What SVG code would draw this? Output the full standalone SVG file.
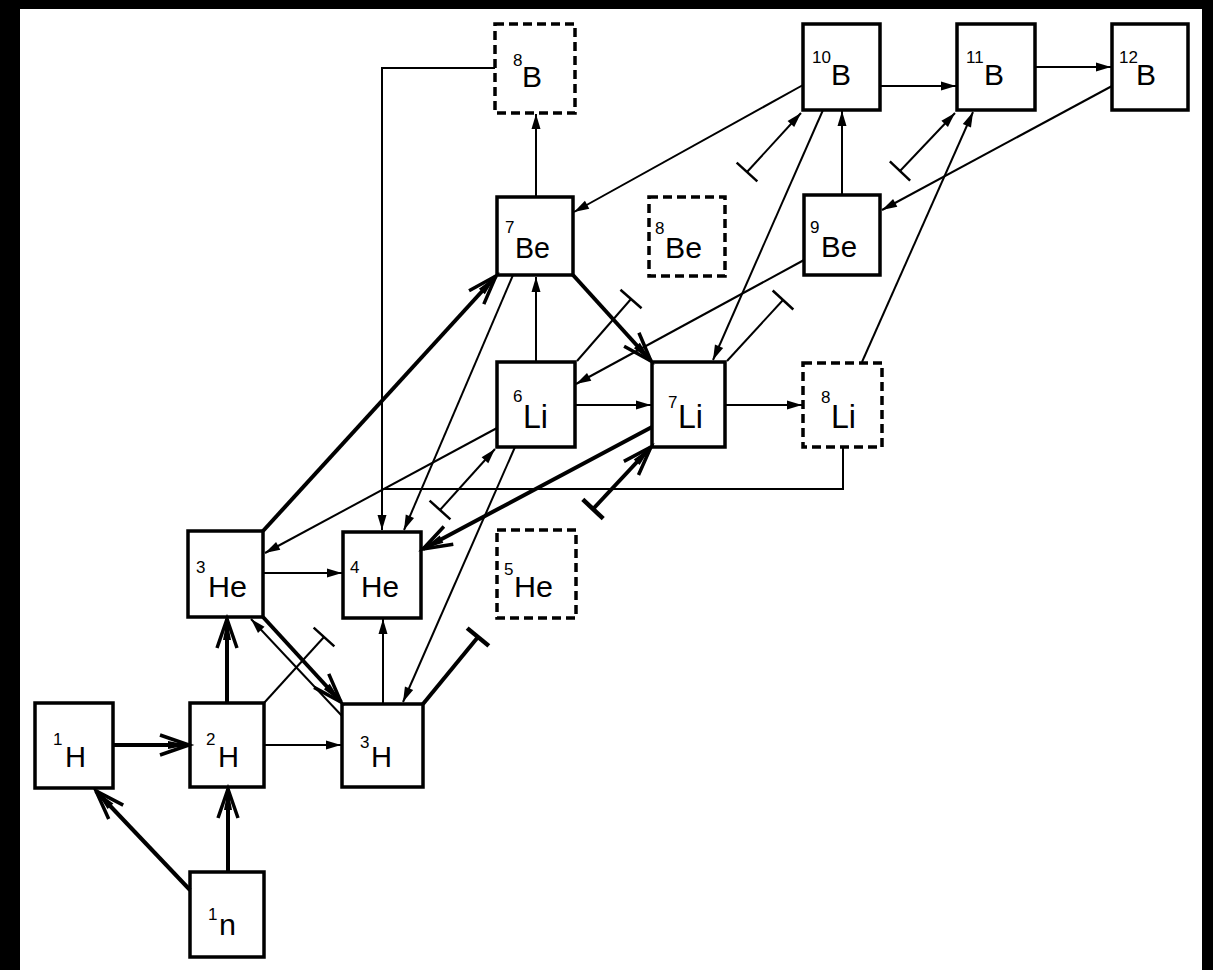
<svg xmlns="http://www.w3.org/2000/svg" width="1213" height="970" viewBox="0 0 1213 970">
<style>
.box{fill:#fff;stroke:#000;stroke-width:3.5}
.dash{fill:#fff;stroke:#000;stroke-width:3.5;stroke-dasharray:9 5}
.lab{font-family:"Liberation Sans",Arial,sans-serif;font-size:30px;fill:#000}
.sup{font-family:"Liberation Sans",Arial,sans-serif;font-size:17px;fill:#000}
.thin{fill:none;stroke:#000;stroke-width:2}
.thick{fill:none;stroke:#000;stroke-width:4}
</style>
<defs>
<marker id="a" markerUnits="userSpaceOnUse" markerWidth="16" markerHeight="10" refX="15" refY="5" orient="auto" overflow="visible"><path d="M0,0.5 L15,5 L0,9.5 z" fill="#000"/></marker>
<marker id="o" markerUnits="userSpaceOnUse" markerWidth="34" markerHeight="24" refX="31" refY="12" orient="auto" overflow="visible"><path d="M2,2 L31,12 L2,22" fill="none" stroke="#000" stroke-width="3.5"/><path d="M10,8 L31,12 L10,16 z" fill="#000"/></marker>
<marker id="t" markerUnits="userSpaceOnUse" markerWidth="4" markerHeight="30" refX="0" refY="14" orient="auto" overflow="visible"><path d="M0,0 V28" stroke="#000" stroke-width="2.5"/></marker>
<marker id="tk" markerUnits="userSpaceOnUse" markerWidth="6" markerHeight="30" refX="0" refY="14" orient="auto" overflow="visible"><path d="M0,0 V28" stroke="#000" stroke-width="4.5"/></marker>
</defs>
<rect x="0" y="0" width="1213" height="970" fill="#000"/>
<rect x="20" y="9" width="1182" height="961" fill="#fff"/>

<g id="nodes">
<g id="n8B"><rect class="dash" x="495" y="24" width="80" height="89"/><text class="sup" x="513" y="66">8</text><text class="lab" x="522" y="87">B</text></g>
<g id="n10B"><rect class="box" x="803" y="24" width="77" height="86"/><text class="sup" x="812" y="63">10</text><text class="lab" x="831" y="85">B</text></g>
<g id="n11B"><rect class="box" x="957" y="24" width="78" height="86"/><text class="sup" x="966" y="63">11</text><text class="lab" x="984" y="85">B</text></g>
<g id="n12B"><rect class="box" x="1112" y="24" width="76" height="86"/><text class="sup" x="1119" y="63">12</text><text class="lab" x="1136" y="85">B</text></g>
<g id="n7Be"><rect class="box" x="497" y="197" width="76" height="78"/><text class="sup" x="505" y="233">7</text><text class="lab" x="515" y="258" textLength="35" lengthAdjust="spacingAndGlyphs">Be</text></g>
<g id="n8Be"><rect class="dash" x="649" y="197" width="76" height="79"/><text class="sup" x="655" y="234">8</text><text class="lab" x="665" y="258" textLength="37" lengthAdjust="spacingAndGlyphs">Be</text></g>
<g id="n9Be"><rect class="box" x="804" y="195" width="76" height="80"/><text class="sup" x="810" y="233">9</text><text class="lab" x="821" y="257" textLength="36" lengthAdjust="spacingAndGlyphs">Be</text></g>
<g id="n6Li"><rect class="box" x="497" y="362" width="78" height="85"/><text class="sup" x="513" y="402">6</text><text class="lab" x="523" y="428" style="font-size:34px" textLength="25" lengthAdjust="spacingAndGlyphs">Li</text></g>
<g id="n7Li"><rect class="box" x="652" y="362" width="73" height="85"/><text class="sup" x="668" y="408">7</text><text class="lab" x="678" y="428" style="font-size:34px" textLength="25" lengthAdjust="spacingAndGlyphs">Li</text></g>
<g id="n8Li"><rect class="dash" x="803" y="363" width="79" height="84"/><text class="sup" x="821" y="403">8</text><text class="lab" x="831" y="428" style="font-size:34px" textLength="25" lengthAdjust="spacingAndGlyphs">Li</text></g>
<g id="n3He"><rect class="box" x="188" y="531" width="75" height="86"/><text class="sup" x="196" y="573">3</text><text class="lab" x="208" y="597" textLength="39" lengthAdjust="spacingAndGlyphs">He</text></g>
<g id="n4He"><rect class="box" x="343" y="532" width="78" height="86"/><text class="sup" x="350" y="573">4</text><text class="lab" x="361" y="597" textLength="38" lengthAdjust="spacingAndGlyphs">He</text></g>
<g id="n5He"><rect class="dash" x="497" y="530" width="79" height="88"/><text class="sup" x="504" y="575">5</text><text class="lab" x="514" y="597" textLength="39" lengthAdjust="spacingAndGlyphs">He</text></g>
<g id="n1H"><rect class="box" x="35" y="703" width="78" height="85"/><text class="sup" x="53" y="745">1</text><text class="lab" x="65" y="767" textLength="21" lengthAdjust="spacingAndGlyphs">H</text></g>
<g id="n2H"><rect class="box" x="190" y="703" width="74" height="84"/><text class="sup" x="206" y="745">2</text><text class="lab" x="218" y="767" textLength="21" lengthAdjust="spacingAndGlyphs">H</text></g>
<g id="n3H"><rect class="box" x="342" y="704" width="81" height="83"/><text class="sup" x="360" y="748">3</text><text class="lab" x="371" y="767" textLength="21" lengthAdjust="spacingAndGlyphs">H</text></g>
<g id="n1n"><rect class="box" x="190" y="872" width="74" height="85"/><text class="sup" x="208" y="920">1</text><text class="lab" x="219" y="935" textLength="17" lengthAdjust="spacingAndGlyphs">n</text></g>
</g>

<g id="connectors">
<path class="thin" d="M495,68 H382 V530" marker-end="url(#a)"/>
<path class="thin" d="M843,447 V489 H382"/>
<path class="thin" d="M536,197 V114" marker-end="url(#a)"/>
<path class="thin" d="M803,85 L574,212" marker-end="url(#a)"/>
<path class="thin" d="M880,86 H956" marker-end="url(#a)"/>
<path class="thin" d="M1035,67 H1111" marker-end="url(#a)"/>
<path class="thin" d="M1112,86 L882,210" marker-end="url(#a)"/>
<path class="thin" d="M842,195 V111" marker-end="url(#a)"/>
<path class="thin" d="M747,172 L801,113" marker-start="url(#t)" marker-end="url(#a)"/>
<path class="thin" d="M900,171 L955,113" marker-start="url(#t)" marker-end="url(#a)"/>
<path class="thin" d="M862,362 L973,112" marker-end="url(#a)"/>
<path class="thin" d="M823,110 L713,360" marker-end="url(#a)"/>
<path class="thin" d="M804,260 L576,384" marker-end="url(#a)"/>
<path class="thin" d="M783,300 L727,361" marker-start="url(#t)"/>
<path class="thin" d="M631,299 L577,361" marker-start="url(#t)"/>
<path class="thick" d="M573,275 L651,361" marker-end="url(#o)"/>
<path class="thin" d="M536,362 V277" marker-end="url(#a)"/>
<path class="thin" d="M575,405 H651" marker-end="url(#a)"/>
<path class="thin" d="M725,405 H802" marker-end="url(#a)"/>
<path class="thick" d="M263,531 L496,276" marker-end="url(#o)"/>
<path class="thin" d="M497,428 L265,553" marker-end="url(#a)"/>
<path class="thin" d="M513,275 L404,530" marker-end="url(#a)"/>
<path class="thin" d="M440,510 L495,449" marker-start="url(#t)" marker-end="url(#a)"/>
<path class="thick" d="M652,427 L423,549" marker-end="url(#o)"/>
<path class="thick" d="M593,509 L651,447" marker-start="url(#tk)" marker-end="url(#o)"/>
<path class="thin" d="M515,447 L403,702" marker-end="url(#a)"/>
<path class="thin" d="M263,573 H342" marker-end="url(#a)"/>
<path class="thin" d="M383,704 V619" marker-end="url(#a)"/>
<path class="thick" d="M423,704 L478,637" marker-end="url(#tk)"/>
<path class="thick" d="M263,617 L341,702" marker-end="url(#o)"/>
<path class="thin" d="M342,716 L251,619" marker-end="url(#a)"/>
<path class="thin" d="M264,703 L324,637" marker-end="url(#t)"/>
<path class="thick" d="M227,703 V619" marker-end="url(#o)"/>
<path class="thick" d="M113,745 H189" marker-end="url(#o)"/>
<path class="thin" d="M264,745 H341" marker-end="url(#a)"/>
<path class="thick" d="M228,872 V789" marker-end="url(#o)"/>
<path class="thick" d="M190,890 L96,791" marker-end="url(#o)"/>
</g>
</svg>
